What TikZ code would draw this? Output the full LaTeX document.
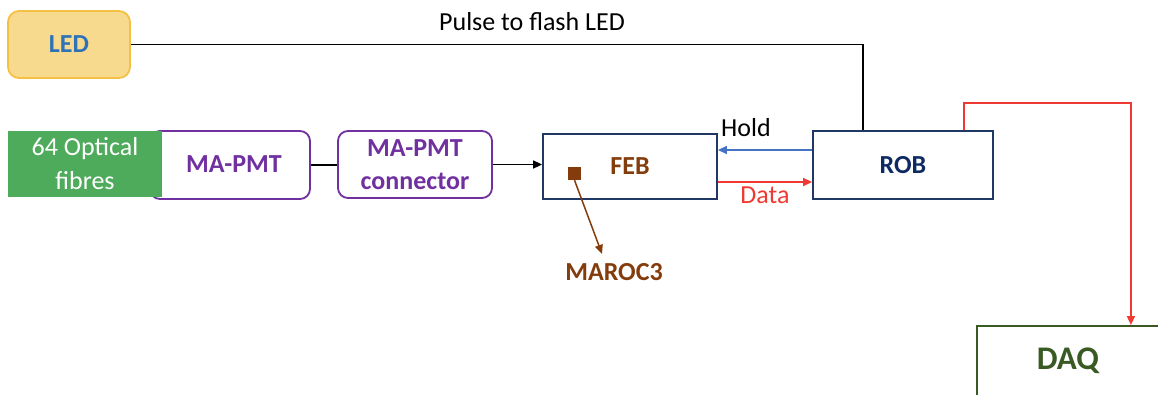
\documentclass[tikz,border=0pt]{standalone}
\usepackage{fontspec}
\setmainfont{Carlito}
\usetikzlibrary{arrows.meta}
\definecolor{ledfill}{HTML}{F8DA8E}
\definecolor{ledborder}{HTML}{F4C144}
\definecolor{ledtext}{HTML}{2E72B8}
\definecolor{fibre}{HTML}{4EAB5B}
\definecolor{pmt}{HTML}{7030A0}
\definecolor{navyb}{HTML}{1F3864}
\definecolor{navyt}{HTML}{0E2A63}
\definecolor{brownt}{HTML}{843C0C}
\definecolor{redl}{HTML}{EE3A32}
\definecolor{bluel}{HTML}{4472C4}
\definecolor{daqg}{HTML}{3A5A24}
\begin{document}
\begin{tikzpicture}[x=1pt,y=-1pt,
  bold/.style={font=\fontsize{26}{33}\selectfont\bfseries},
  plain/.style={font=\fontsize{26}{34}\selectfont},
  rbox/.style={draw=pmt, line width=1.8pt, rounded corners=10pt, fill=white, text=pmt, bold, align=center, inner sep=0pt},
  sbox/.style={draw=navyb, line width=1.8pt, fill=white, bold, inner sep=0pt},
  tip/.style={-{Triangle[length=9pt,width=8pt]}},
]
\useasboundingbox (0,0) rectangle (1158,394);
\clip (0,0) rectangle (1158,394);
% LED
\node[draw=ledborder, fill=ledfill, line width=1.8pt, rounded corners=11pt, minimum width=122pt, minimum height=67pt, text=ledtext, bold, inner sep=0pt] (led) at (69,44.5) {LED};
% MA-PMT and fibres
\node[rbox, minimum width=160pt, minimum height=68pt] (pmtbox) at (230,165) {};
\node[bold, text=pmt] (pmtlabel) at (234,164) {MA-PMT};
\node[fill=fibre, minimum width=154pt, minimum height=66pt, inner sep=0pt, text=white, plain, align=center] (fib) at (85,164) {64 Optical\\fibres};
\node[rbox, minimum width=154pt, minimum height=67pt] (conn) at (415,164.5) {MA-PMT\\connector};
% FEB
\node[sbox, minimum width=174pt, minimum height=65pt, text=brownt] (feb) at (630,166.5) {FEB};
\node[fill=brownt, minimum size=13pt, inner sep=0pt] (sq) at (574.5,173.5) {};
\node[bold, text=brownt] (maroc) at (614,272) {MAROC3};
% ROB
\node[sbox, minimum width=180pt, minimum height=68pt, text=navyt] (rob) at (903,165) {ROB};
% DAQ
\node[draw=daqg, line width=1.8pt, fill=white, anchor=north west, minimum width=240pt, minimum height=110pt, inner sep=0pt] (daq) at (976,325) {};
\node[font=\fontsize{33}{36}\selectfont\bfseries, text=daqg] (daqlabel) at (1068,361) {DAQ};
% connectors
\draw[line width=1.8pt] (led.east) -| ([xshift=-40pt]rob.north);
\node[plain] (pulse) at (532,22) {Pulse to flash LED};
\draw[line width=1.8pt] (pmtbox.east) -- (conn.west |- pmtbox.east);
\draw[line width=1.6pt, tip] (conn.east) -- (feb.west |- conn.east);
\draw[line width=1.5pt, bluel, tip] ([yshift=15pt]rob.west) -- ([yshift=15pt]rob.west -| feb.east);
\node[plain] (hold) at (746,128) {Hold};
\draw[line width=1.5pt, redl, tip] ([yshift=-17pt]rob.west -| feb.east) -- ([yshift=-17pt]rob.west);
\node[plain, text=redl] (data) at (765,195) {Data};
\draw[line width=1.5pt, brownt, tip] (sq.south) -- ([xshift=-12pt,yshift=6pt]maroc.north);
\draw[line width=1.6pt, redl, tip] ([xshift=61pt]rob.north) -- ++(0,-27) -| ([xshift=34pt]daq.north);
\end{tikzpicture}
\end{document}
